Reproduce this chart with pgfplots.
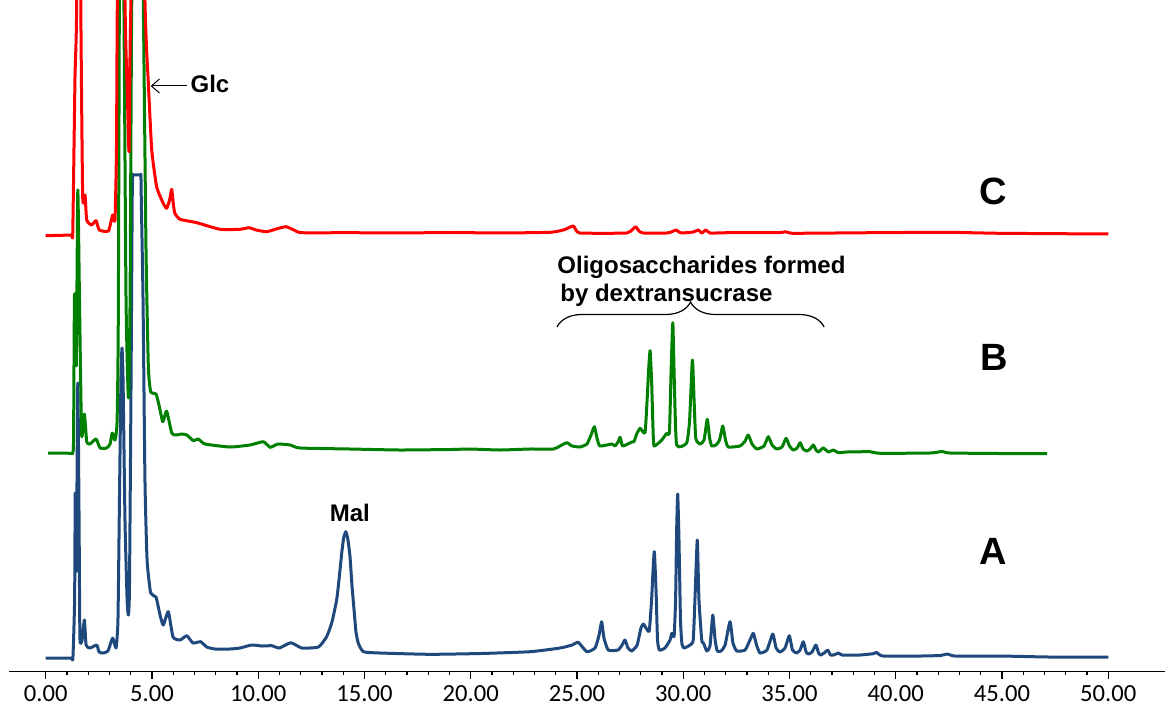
\documentclass[border=0pt]{standalone}
\usepackage{pgfplots}
\pgfplotsset{compat=1.18}
\usepackage{fontspec}
\setmainfont{Liberation Sans}
\newfontfamily\calibri{Carlito}
\usetikzlibrary{decorations.pathreplacing,arrows.meta}
\definecolor{cA}{RGB}{31,73,125}
\definecolor{cB}{RGB}{0,128,0}
\definecolor{cC}{RGB}{255,0,0}
\begin{document}
\begin{tikzpicture}
\begin{axis}[
  x=10.625pt, y=0.5pt,
  xmin=-1.71, xmax=52.67, ymin=0, ymax=671.7,
  axis x line=bottom, axis y line=none,
  axis line style={-, line width=0.65pt, black},
  xtick={0,5,...,50}, minor xtick={0,1,...,50},
  xtick align=outside, major tick length=3.6pt, minor tick length=1.7pt,
  every tick/.style={black, line width=0.65pt},
  scaled x ticks=false,
  /pgf/number format/assume math mode=true,
  xticklabel style={font=\calibri\fontsize{12.3}{14}\selectfont,
    /pgf/number format/fixed, /pgf/number format/fixed zerofill,
    /pgf/number format/precision=2},
  clip mode=individual,
  every axis plot/.append style={line width=1.5pt, line join=round, mark=none, smooth, tension=0.3},
]
% A (blue)
\addplot[cA] coordinates {
(0.00,13.7)(0.60,13.7)(1.20,13.7)(1.28,13.7)(1.36,71.7)(1.39,178.7)(1.44,100.7)(1.51,288.7)(1.57,151.7)(1.61,33.7)(1.71,31.7)(1.82,51.7)(1.90,26.7)(2.08,23.7)(2.40,26.7)(2.51,19.7)(2.70,18.7)(2.93,20.7)(3.15,33.7)(3.31,23.7)(3.40,51.7)(3.47,171.7)(3.54,291.7)(3.59,323.7)(3.64,291.7)(3.73,151.7)(3.83,71.7)(3.89,56.7)(3.94,81.7)(4.01,271.7)(4.07,470)(4.09,496.7)(4.11,496.7)(4.30,496.7)(4.46,496.7)(4.48,496.7)(4.50,470)(4.58,371.7)(4.67,191.7)(4.77,111.7)(4.94,78.7)(5.19,74.7)(5.38,56.7)(5.53,46.7)(5.77,60)(5.99,34.7)(6.32,31.7)(6.64,36)(6.93,28.7)(7.29,30)(7.58,24.7)(7.97,22.7)(8.67,22.7)(9.14,23.7)(9.69,26.7)(10.18,25.7)(10.64,26)(10.99,23.7)(11.54,29)(12.05,23.7)(12.83,24.7)(13.22,35)(13.47,49.7)(13.69,71.7)(13.80,91.7)(13.93,118.7)(14.02,133.7)(14.12,140)(14.21,133.7)(14.32,115)(14.41,86.7)(14.51,61.7)(14.60,39.7)(14.71,28.4)(14.95,20)(15.73,18.7)(18.08,17.4)(20.44,18.2)(22.79,20)(24.20,23.7)(24.77,26.7)(25.06,29.4)(25.46,20)(25.85,23.7)(26.04,36.7)(26.16,50)(26.27,33.7)(26.47,21.7)(26.93,21.7)(27.12,26.7)(27.26,31.7)(27.40,23.7)(27.58,20.7)(27.83,26.7)(28.01,43.7)(28.12,47.7)(28.25,43.7)(28.40,40.7)(28.51,71.7)(28.58,101.7)(28.64,120)(28.72,81.7)(28.79,31.7)(28.88,21.7)(29.14,23.7)(29.38,31.7)(29.46,38.4)(29.57,35.7)(29.64,71.7)(29.69,141.7)(29.74,177.7)(29.80,131.7)(29.87,51.7)(29.94,27.7)(30.04,23.7)(30.32,26.7)(30.47,31.7)(30.55,71.7)(30.66,131.7)(30.74,71.7)(30.87,31.7)(30.95,28.7)(31.11,20.7)(31.26,25.7)(31.39,56.7)(31.50,31.7)(31.60,20.7)(31.78,20.7)(31.97,26.7)(32.20,50)(32.34,28.7)(32.52,20.7)(32.91,21.7)(33.14,31.7)(33.30,38.4)(33.45,26.7)(33.61,18.7)(33.94,21.7)(34.21,37.7)(34.37,23.7)(34.55,19.7)(34.79,23.7)(34.99,36)(35.14,21.7)(35.34,18.7)(35.50,21.7)(35.65,30)(35.78,19.7)(35.89,17.7)(36.06,19.7)(36.24,26.7)(36.37,18.7)(36.47,16.7)(36.63,18.7)(36.80,21.7)(36.93,16.7)(37.06,16.7)(37.19,17.7)(37.30,18.7)(37.47,16.7)(37.69,16.7)(38.32,16.7)(38.93,18)(39.10,19.2)(39.40,15.7)(41.14,15.7)(42.08,16.2)(42.44,17.7)(42.79,15.7)(44.91,15.7)(47.26,14.7)(50.00,14.7)
};
% B (green)
\addplot[cB] coordinates {
(0.11,218.7)(0.70,218.6)(1.20,218.4)(1.27,218.4)(1.31,231.7)(1.35,371.7)(1.39,371.7)(1.44,306.7)(1.51,481.7)(1.59,371.7)(1.69,236.7)(1.82,257.7)(1.93,230)(2.08,227.7)(2.37,232.7)(2.56,223.7)(2.87,223.7)(3.03,227.7)(3.13,238.7)(3.26,231.7)(3.36,251.7)(3.42,371.7)(3.54,1100)(3.68,671.7)(3.78,371.7)(3.89,273.7)(3.97,371.7)(4.05,671.7)(4.30,1100)(4.59,671.7)(4.72,421.7)(4.83,305)(4.94,280)(5.19,277.7)(5.33,266.7)(5.51,250)(5.69,260.7)(5.93,238.7)(6.13,236.7)(6.40,237.7)(6.64,236.7)(6.95,231)(7.18,232.7)(7.50,227.7)(8.67,224.7)(9.61,226.7)(10.24,230)(10.56,224.4)(10.93,227.7)(11.50,226.7)(11.97,223.7)(14.32,222.7)(16.67,221.7)(19.03,222.2)(19.97,222.7)(21.38,221.7)(22.79,222.7)(23.89,222.7)(24.20,225.7)(24.52,229)(24.77,225.7)(25.14,224.7)(25.47,227.7)(25.66,236.7)(25.82,245)(25.94,233.7)(26.08,225.7)(26.64,227.7)(26.79,225.7)(26.93,229.7)(27.03,234.4)(27.15,225.7)(27.58,229.7)(27.68,230)(27.81,237.7)(27.97,243.4)(28.20,239)(28.30,271.7)(28.37,301.7)(28.44,321)(28.51,291.7)(28.58,241.7)(28.63,225.7)(28.99,231.7)(29.22,238.4)(29.35,239.7)(29.43,301.7)(29.51,349)(29.59,281.7)(29.69,226.7)(30.16,228.7)(30.30,251.7)(30.43,311.7)(30.51,271.7)(30.59,233.4)(30.79,227.7)(30.98,231.7)(31.13,252.4)(31.24,233.7)(31.34,225.7)(31.54,226.7)(31.71,231.7)(31.86,245.7)(31.99,231.7)(32.12,224.7)(32.67,225.7)(32.91,230.7)(33.06,236.7)(33.24,227.7)(33.46,222.7)(33.80,225.7)(34.00,235)(34.18,226.7)(34.40,222.7)(34.65,224.7)(34.84,233.4)(35.00,225.7)(35.18,221.7)(35.36,223.7)(35.50,229)(35.64,222.7)(35.81,220.7)(35.97,222.7)(36.12,226.7)(36.25,221.7)(36.36,219.7)(36.59,223.7)(36.83,219.7)(37.06,221.7)(37.30,219)(37.69,219.7)(38.79,220)(39.26,218.4)(41.61,218.7)(42.18,220.2)(42.56,218.7)(44.91,218.2)(47.12,218.2)
};
% C (red)
\addplot[cC] coordinates {
(0.00,436)(0.60,436.3)(1.20,436.7)(1.27,436.7)(1.33,521.7)(1.38,596.7)(1.46,671.7)(1.55,1100)(1.65,671.7)(1.74,475)(1.85,476.7)(1.93,451.7)(2.16,446.7)(2.37,451)(2.52,441.7)(2.95,440.7)(3.15,456.7)(3.26,451.7)(3.33,521.7)(3.37,671.7)(3.54,1100)(3.73,671.7)(3.85,571.7)(3.92,520)(3.97,621.7)(4.01,671.7)(4.32,1100)(4.67,671.7)(4.83,588.4)(4.99,521.7)(5.22,485)(5.53,468.4)(5.69,463.4)(5.83,471.7)(5.93,482.4)(6.01,466.7)(6.08,458.4)(6.32,452.4)(7.11,449)(8.20,442.4)(9.14,442.4)(9.57,444)(9.90,441.7)(10.40,440)(10.93,443.2)(11.31,445)(11.68,441.7)(12.05,439)(14.32,439)(16.67,438.7)(19.03,439.2)(21.38,438.7)(23.73,439.4)(24.36,441.7)(24.58,443.7)(24.83,445.7)(24.98,440.7)(25.14,438.7)(26.08,438.4)(27.34,438.7)(27.59,441.7)(27.76,445)(27.92,440.7)(28.12,438.7)(29.22,438.7)(29.43,439.7)(29.66,441.7)(29.80,439.7)(29.93,438.7)(30.47,439.7)(30.71,441.7)(30.87,438.7)(31.07,441.7)(31.26,438.7)(32.12,439)(34.55,439.2)(34.79,440)(35.03,438.7)(35.34,438.4)(38.95,439)(42.40,439.4)(44.91,438.4)(50.00,437.7)
};
% annotations
\draw[black, line width=0.5pt, -{Straight Barb[length=4pt,width=7pt]}] (axis cs:6.64,585.7) -- (axis cs:4.94,585.7);
\node[anchor=west, inner sep=0pt, font=\bfseries\fontsize{12}{14}\selectfont] at (axis cs:6.80,587.7) {Glc};
\node[inner sep=0pt, font=\bfseries\fontsize{12}{14}\selectfont] at (axis cs:14.31,159.2) {Mal};
\node[anchor=base west, inner sep=0pt, font=\bfseries\fontsize{12}{14}\selectfont] at (axis cs:24.06,397.7) {Oligosaccharides formed};
\node[anchor=base west, inner sep=0pt, font=\bfseries\fontsize{12}{14}\selectfont] at (axis cs:24.20,370.7) {by dextransucrase};
\draw[black, line width=0.6pt, decorate, decoration={brace, amplitude=12.5pt}] (axis cs:24.06,344.7) -- (axis cs:36.63,344.7);
\node[inner sep=0pt, font=\bfseries\fontsize{19}{22}\selectfont] at (axis cs:44.58,120.7) {A};
\node[inner sep=0pt, font=\bfseries\fontsize{19}{22}\selectfont] at (axis cs:44.63,314.7) {B};
\node[inner sep=0pt, font=\bfseries\fontsize{19}{22}\selectfont] at (axis cs:44.60,480.7) {C};
\coordinate (ll) at (axis cs:-2.151,-38.3);
\coordinate (ur) at (axis cs:52.67,671.7);
\end{axis}
\pgfresetboundingbox
\path[use as bounding box] (ll) rectangle (ur);
\end{tikzpicture}
\end{document}
